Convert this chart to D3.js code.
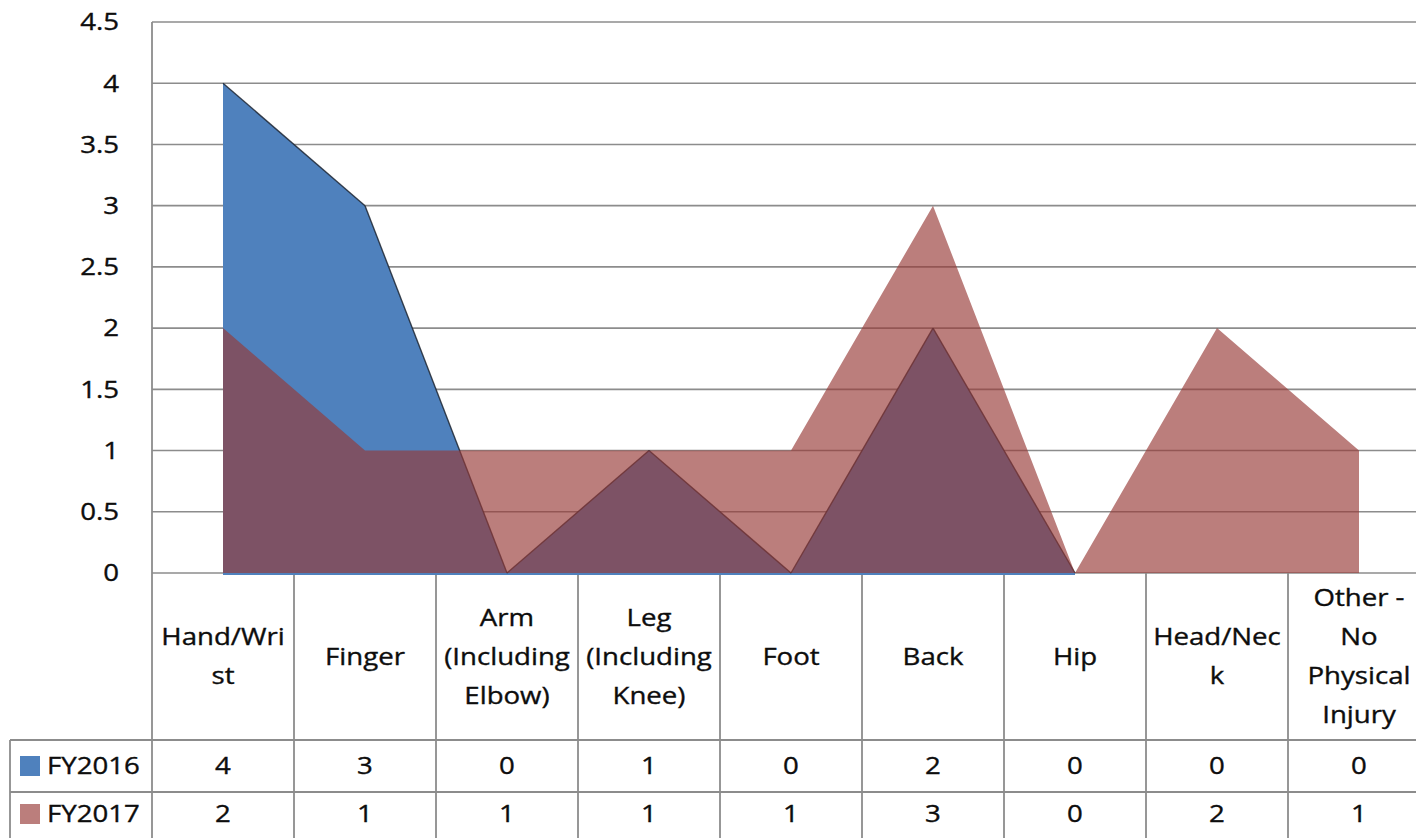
<!DOCTYPE html>
<html>
<head>
<meta charset="utf-8">
<script src="https://cdn.jsdelivr.net/npm/d3@7"></script>
<style>
  html, body { margin: 0; padding: 0; background: #fff; }
  svg { display: block; }
  text { font-family: "Open Sans", "DejaVu Sans", sans-serif; fill: #0d0d0d; stroke: #0d0d0d; stroke-width: 0.35; }
</style>
</head>
<body>
<svg id="chart" width="1416" height="838"></svg>
<script>
// ---- data ----
const categories = ["Hand/Wrist", "Finger", "Arm (Including Elbow)", "Leg (Including Knee)", "Foot", "Back", "Hip", "Head/Neck", "Other - No Physical Injury"];
const categoryLabelLines = [
  ["Hand/Wri", "st"],
  ["Finger"],
  ["Arm", "(Including", "Elbow)"],
  ["Leg", "(Including", "Knee)"],
  ["Foot"],
  ["Back"],
  ["Hip"],
  ["Head/Nec", "k"],
  ["Other -", "No", "Physical", "Injury"]
];
const seriesNames = ["FY2016", "FY2017"];
const fy2016 = [4, 3, 0, 1, 0, 2, 0, 0, 0];
const fy2017 = [2, 1, 1, 1, 1, 3, 0, 2, 1];
const yTicks = [0, 0.5, 1, 1.5, 2, 2.5, 3, 3.5, 4, 4.5];
const yTickLabels = ["0", "0.5", "1", "1.5", "2", "2.5", "3", "3.5", "4", "4.5"];

// ---- layout ----
const W = 1416, H = 838;
const plotLeft = 152, plotTop = 22, plotBottom = 573;
const bandW = 142;
const catRowBottom = 740, row1Bottom = 792, tableBottom = 838;
const legendLeft = 10;
const gridColor = "#8c8c8c";
const blue = "#4F81BD";
const red = "rgb(150,57,54)";
const sx = 1.2; // horizontal text stretch
const fontSize = 23;

const svg = d3.select("#chart");

const x = d3.scaleBand().domain(categories).range([plotLeft, plotLeft + bandW * categories.length]).padding(0);
const xc = c => x(c) + x.bandwidth() / 2;
const y = d3.scaleLinear().domain([0, 4.5]).range([plotBottom, plotTop]);

// gridlines
svg.append("g").selectAll("line").data(yTicks).join("line")
  .attr("x1", plotLeft).attr("x2", W)
  .attr("y1", d => y(d)).attr("y2", d => y(d))
  .attr("stroke", gridColor).attr("stroke-width", 1.6);

// y tick labels
const yLab = svg.append("g");
yTicks.forEach((t, i) => {
  yLab.append("text")
    .attr("transform", `translate(119,${y(t)}) scale(${sx},1)`)
    .attr("text-anchor", "end").attr("dy", "0.36em")
    .attr("font-size", fontSize)
    .text(yTickLabels[i]);
});

// table lines
const tl = svg.append("g").attr("stroke", gridColor).attr("stroke-width", 1.8);
tl.append("line").attr("x1", plotLeft).attr("x2", plotLeft).attr("y1", plotTop).attr("y2", tableBottom);
categories.forEach((c, i) => {
  if (i > 0) tl.append("line").attr("x1", x(c)).attr("x2", x(c)).attr("y1", plotBottom).attr("y2", tableBottom);
});
tl.append("line").attr("x1", legendLeft).attr("x2", legendLeft).attr("y1", catRowBottom).attr("y2", tableBottom);
[catRowBottom, row1Bottom].forEach(yy => {
  tl.append("line").attr("x1", legendLeft).attr("x2", W).attr("y1", yy).attr("y2", yy);
});

// areas
const d16 = categories.map((c, i) => ({ c, v: fy2016[i] }));
const d17 = categories.map((c, i) => ({ c, v: fy2017[i] }));
const area = d3.area().x(d => xc(d.c)).y0(y(0)).y1(d => y(d.v));

svg.append("path").datum(d16)
  .attr("d", area)
  .attr("fill", blue);

// blue baseline glow where FY2016 area sits
const segs16 = d16.slice(1).map((d, i) => [d16[i], d]).filter(p => p[0].v > 0 || p[1].v > 0);
svg.append("g").selectAll("line").data(segs16).join("line")
  .attr("x1", p => xc(p[0].c)).attr("x2", p => xc(p[1].c))
  .attr("y1", y(0) + 1).attr("y2", y(0) + 1)
  .attr("stroke", blue).attr("stroke-width", 2.2);

// dark outline on FY2016 top edge
svg.append("g").selectAll("line").data(segs16).join("line")
  .attr("x1", p => xc(p[0].c)).attr("x2", p => xc(p[1].c))
  .attr("y1", p => y(p[0].v)).attr("y2", p => y(p[1].v))
  .attr("stroke", "#1d2633").attr("stroke-width", 1.4).attr("stroke-opacity", 0.85);

svg.append("path").datum(d17)
  .attr("d", area)
  .attr("fill", red).attr("fill-opacity", 0.65);

// category labels
const catG = svg.append("g");
const lineH = 39;
const cellMid = (plotBottom + catRowBottom) / 2;
categories.forEach((c, i) => {
  const lines = categoryLabelLines[i];
  lines.forEach((ln, j) => {
    const yy = cellMid - (lines.length - 1) * lineH / 2 + j * lineH;
    catG.append("text")
      .attr("transform", `translate(${xc(c)},${yy}) scale(${sx},1)`)
      .attr("text-anchor", "middle").attr("dy", "0.36em")
      .attr("font-size", fontSize)
      .text(ln);
  });
});

// data rows
const rows = [fy2016, fy2017];
const rowMids = [(catRowBottom + row1Bottom) / 2, (row1Bottom + tableBottom) / 2 - 1];
const colors = [blue, "rgb(187,126,124)"];
rows.forEach((vals, r) => {
  const g = svg.append("g");
  g.append("rect").attr("x", 20).attr("y", rowMids[r] - 10).attr("width", 20).attr("height", 20).attr("fill", colors[r]);
  g.append("text")
    .attr("transform", `translate(47,${rowMids[r]}) scale(${sx},1)`)
    .attr("dy", "0.36em").attr("font-size", fontSize)
    .text(seriesNames[r]);
  categories.forEach((c, i) => {
    g.append("text")
      .attr("transform", `translate(${xc(c)},${rowMids[r]}) scale(${sx},1)`)
      .attr("text-anchor", "middle").attr("dy", "0.36em")
      .attr("font-size", fontSize)
      .text(vals[i]);
  });
});
</script>
</body>
</html>
